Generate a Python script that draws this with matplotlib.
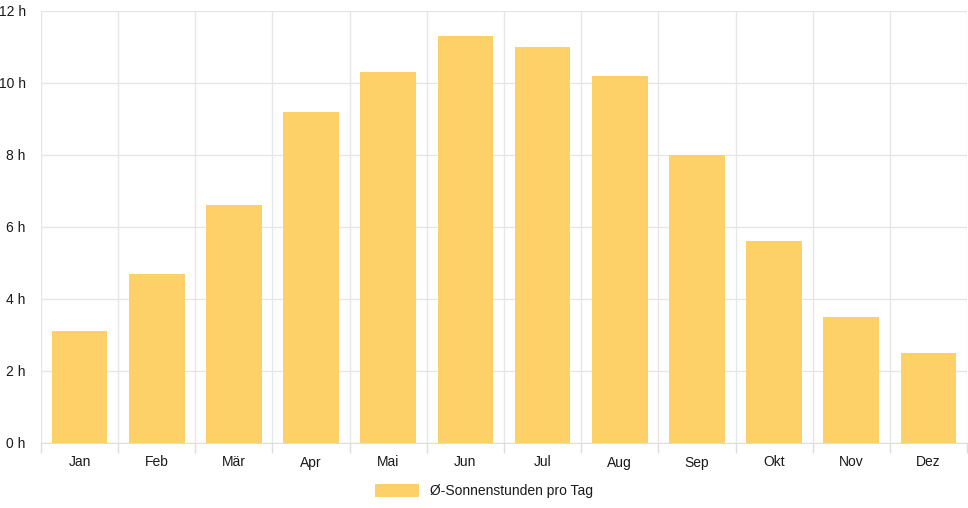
import numpy as np
import matplotlib
matplotlib.use("Agg")
import matplotlib.pyplot as plt

plt.rcParams['font.family'] = ['Liberation Sans', 'DejaVu Sans']

months = ["Jan", "Feb", "Mär", "Apr", "Mai", "Jun", "Jul", "Aug", "Sep", "Okt", "Nov", "Dez"]
sun_hours = [3.1, 4.7, 6.6, 9.2, 10.3, 11.3, 11.0, 10.2, 8.0, 5.6, 3.5, 2.5]
y_ticks = [0, 2, 4, 6, 8, 10, 12]
series_label = "Ø-Sonnenstunden pro Tag"

W, H = 968, 508
fig = plt.figure(figsize=(W / 100, H / 100), dpi=100)
ax = fig.add_axes([41 / W, (H - 443) / H, 926 / W, 432 / H])

x = np.arange(len(months))
bars = ax.bar(x, sun_hours, width=0.72, color="#fed068", label=series_label, zorder=3)

ax.set_xlim(-0.5, len(months) - 0.5)
ax.set_ylim(0, 12)

ax.set_xticks(x)
ax.set_xticklabels(months)
ax.set_xticks(np.arange(len(months) + 1) - 0.5, minor=True)
ax.tick_params(axis="x", which="major", length=0, pad=9, labelsize=10, labelcolor="#1a1a1a")
ax.tick_params(axis="x", which="minor", length=7, color="#dddddd", width=1)

ax.set_yticks(y_ticks)
ax.set_yticklabels([f"{t} h" for t in y_ticks])
ax.tick_params(axis="y", length=0, pad=11, labelsize=10, labelcolor="#1a1a1a")

ax.grid(True, axis="y", color="#e6e6e6", linewidth=1, zorder=0)
ax.grid(True, axis="x", which="minor", color="#e6e6e6", linewidth=1, zorder=0)

for side in ["top", "right", "left"]:
    ax.spines[side].set_visible(False)
ax.spines["bottom"].set_color("#dddddd")

fig.legend(handles=[bars], labels=[series_label], loc="center",
           bbox_to_anchor=(0.5, 1 - 491 / H), frameon=False, fontsize=10,
           handlelength=3.2, handleheight=1.1, handletextpad=0.8,
           labelcolor="#1a1a1a")

fig.savefig("out.png", dpi=100)
